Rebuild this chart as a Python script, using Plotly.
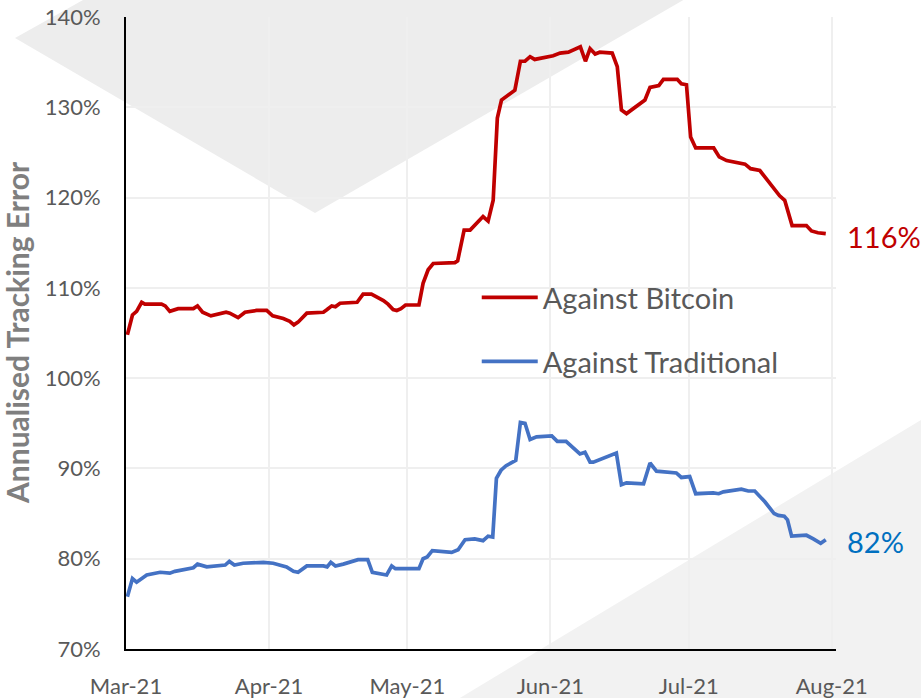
import pandas as pd
import plotly.graph_objects as go

# ---- data (day offsets from 1 Mar 2021, annualised tracking error in %) ----
start_date = "2021-03-01"

btc_day = [0.3, 1.4, 2.3, 3.4, 4.1, 7.7, 8.5, 9.5, 11.3, 14.6, 15.5, 16.6, 18.4, 21.7, 22.5,
           24.3, 25.8, 28.3, 30.5, 31.8, 34.1, 35.5, 36.4, 37.3, 39.2, 42.8, 43.6, 44.6, 45.4,
           46.4, 50.1, 51.4, 53.2, 55.8, 56.8, 57.9, 58.7, 59.6, 60.6, 63.5, 64.4, 65.5, 66.6,
           71.3, 71.9, 72.4, 73.3, 74.6, 77.4, 78.5, 79.6, 80.5, 81.4, 84.3, 85.5, 86.5, 87.6,
           88.6, 92.6, 94.1, 95.9, 98.5, 99.6, 100.6, 101.7, 102.7, 105.4, 106.5, 107.4, 108.5,
           109.6, 112.5, 113.6, 115.5, 116.5, 119.5, 120.4, 121.5, 122.4, 123.5, 127.4, 128.6,
           130.2, 134.2, 135.4, 137.4, 141.7, 142.8, 144.4, 147.5, 148.6, 150.0, 151.7]
btc_pct = [104.8, 107.0, 107.4, 108.4, 108.2, 108.2, 108.0, 107.4, 107.7, 107.7, 108.0, 107.3,
           106.9, 107.3, 107.2, 106.7, 107.3, 107.5, 107.5, 106.9, 106.6, 106.3, 105.9, 106.2,
           107.2, 107.3, 107.6, 108.0, 107.9, 108.3, 108.4, 109.3, 109.3, 108.6, 108.2, 107.6,
           107.5, 107.7, 108.1, 108.1, 110.5, 112.0, 112.7, 112.8, 113.0, 114.2, 116.4, 116.4,
           117.9, 117.4, 119.7, 128.8, 130.8, 131.9, 135.1, 135.1, 135.6, 135.3, 135.7, 136.0,
           136.1, 136.7, 135.1, 136.5, 135.9, 136.1, 136.0, 134.5, 129.7, 129.3, 129.7, 130.8,
           132.2, 132.4, 133.1, 133.1, 132.6, 132.5, 126.7, 125.5, 125.5, 124.5, 124.1, 123.7,
           123.2, 123.0, 120.2, 119.7, 116.9, 116.9, 116.3, 116.1, 116.0]

trad_day = [0.3, 1.4, 2.3, 4.5, 7.4, 9.5, 10.6, 13.9, 14.6, 15.5, 17.5, 21.5, 22.4, 23.5, 25.4,
            29.8, 31.9, 34.8, 36.3, 37.3, 39.2, 42.8, 43.6, 44.4, 45.4, 47.1, 50.3, 52.4, 53.4,
            56.5, 57.6, 58.4, 63.5, 64.4, 65.3, 66.4, 70.6, 72.0, 73.5, 75.6, 77.4, 78.5, 79.5,
            80.3, 81.3, 82.4, 84.5, 85.5, 86.5, 87.6, 89.0, 92.3, 93.5, 95.4, 98.4, 99.5, 100.6,
            101.3, 106.3, 107.4, 108.5, 112.2, 113.6, 115.0, 119.3, 120.4, 122.2, 123.5, 127.3,
            128.5, 129.5, 133.4, 134.9, 136.3, 138.5, 140.5, 141.4, 142.7, 143.4, 144.3, 147.5,
            149.0, 150.6, 151.7]
trad_pct = [75.8, 77.8, 77.4, 78.2, 78.5, 78.4, 78.6, 78.9, 79.0, 79.4, 79.1, 79.3, 79.7, 79.3,
            79.5, 79.6, 79.5, 79.1, 78.6, 78.5, 79.2, 79.2, 79.1, 79.6, 79.2, 79.4, 79.9, 79.9,
            78.5, 78.2, 79.2, 78.9, 78.9, 80.0, 80.2, 80.9, 80.7, 81.0, 82.1, 82.2, 82.0, 82.5,
            82.4, 88.9, 89.8, 90.3, 90.9, 95.1, 95.0, 93.2, 93.5, 93.6, 93.0, 93.0, 91.6, 91.8,
            90.7, 90.7, 91.7, 88.2, 88.4, 88.3, 90.6, 89.7, 89.5, 89.0, 89.1, 87.2, 87.3, 87.2,
            87.4, 87.7, 87.5, 87.5, 86.3, 85.0, 84.8, 84.7, 84.3, 82.5, 82.6, 82.2, 81.7, 82.1]

month_ticks = ["2021-03-01", "2021-04-01", "2021-05-01", "2021-06-01", "2021-07-01", "2021-08-01"]
month_labels = ["Mar-21", "Apr-21", "May-21", "Jun-21", "Jul-21", "Aug-21"]
y_ticks = [70, 80, 90, 100, 110, 120, 130, 140]

RED = "#C00000"
BLUE = "#4472C4"
BLUE_LABEL = "#0070C0"
GREY_TXT = "#595959"

t0 = pd.Timestamp(start_date)
btc_x = [t0 + pd.to_timedelta(d, unit="D") for d in btc_day]
trad_x = [t0 + pd.to_timedelta(d, unit="D") for d in trad_day]

fig = go.Figure()
fig.add_trace(go.Scatter(x=btc_x, y=btc_pct, mode="lines", name="Against Bitcoin",
                         line=dict(color=RED, width=3.7), legend="legend"))
fig.add_trace(go.Scatter(x=trad_x, y=trad_pct, mode="lines", name="Against Traditional",
                         line=dict(color=BLUE, width=3.7), legend="legend2"))

# end-value labels
fig.add_annotation(x=btc_x[-1], y=btc_pct[-1], text=f"{round(btc_pct[-1])}%", showarrow=False,
                   xanchor="left", xshift=19, yshift=-3, font=dict(size=29, color=RED, family="Lato"))
fig.add_annotation(x=trad_x[-1], y=trad_pct[-1], text=f"{round(trad_pct[-1])}%", showarrow=False,
                   xanchor="left", xshift=19, yshift=-2, font=dict(size=29, color=BLUE_LABEL, family="Lato"))

W, H = 921, 698
# plot-area edges in pixels
L, R, T, B = 126, 836, 17, 649

def px(x):
    return (x - L) / (R - L)
def py(y):
    return (B - y) / (B - T)

# y-axis title
fig.add_annotation(xref="paper", yref="paper", x=px(17), y=py(333), text="Annualised Tracking Error",
                   textangle=-90, showarrow=False, xanchor="center", yanchor="middle",
                   font=dict(size=30, color="#7F7F7F", family="Lato", weight="bold"))

diamond = [(92, -5), (15, 38), (315, 213), (692, -5)]
tri = [(921, 420), (940, 420), (940, 710), (440, 710)]
def path(pts):
    return "M " + " L ".join(f"{px(a):.4f},{py(b):.4f}" for a, b in pts) + " Z"

fig.add_shape(type="path", xref="paper", yref="paper", path=path(diamond),
              fillcolor="#EDEDED", line=dict(width=0), layer="below")
fig.add_shape(type="path", xref="paper", yref="paper", path=path(tri),
              fillcolor="#F2F2F2", line=dict(width=0), layer="below")

fig.update_layout(
    width=W, height=H,
    margin=dict(l=L, r=W - R, t=T, b=H - B, autoexpand=False),
    paper_bgcolor="rgba(255,255,255,0)", plot_bgcolor="rgba(0,0,0,0)",
    font=dict(family="Lato", color=GREY_TXT),
    legend=dict(x=0.494, y=0.556, xanchor="left", yanchor="middle", bgcolor="rgba(0,0,0,0)",
                font=dict(size=29, color=GREY_TXT, family="Lato"), itemwidth=56),
    legend2=dict(x=0.494, y=0.455, xanchor="left", yanchor="middle", bgcolor="rgba(0,0,0,0)",
                 font=dict(size=29, color=GREY_TXT, family="Lato"), itemwidth=56),
    showlegend=True,
)
fig.update_xaxes(type="date", range=["2021-03-01", "2021-08-01 22:00"],
                 tickvals=month_ticks, ticktext=month_labels,
                 showgrid=True, gridcolor="#EFEFEF", gridwidth=1.5,
                 showline=True, linecolor="black", linewidth=2,
                 ticks="", ticklabelstandoff=17, ticklabeloverflow="allow",
                 tickfont=dict(size=22, color=GREY_TXT, family="Lato"))
fig.update_yaxes(range=[70, 140], tickvals=y_ticks, ticktext=[f"{v}%" for v in y_ticks],
                 showgrid=True, gridcolor="#EFEFEF", gridwidth=1.5, zeroline=False,
                 showline=True, linecolor="black", linewidth=2,
                 ticks="", ticklabelstandoff=19, ticklabeloverflow="allow",
                 tickfont=dict(size=22, color=GREY_TXT, family="Lato"))

fig.write_html("out.html", config={"displayModeBar": False},
               post_script="document.body.style.margin='0';document.body.style.overflow='hidden';")
